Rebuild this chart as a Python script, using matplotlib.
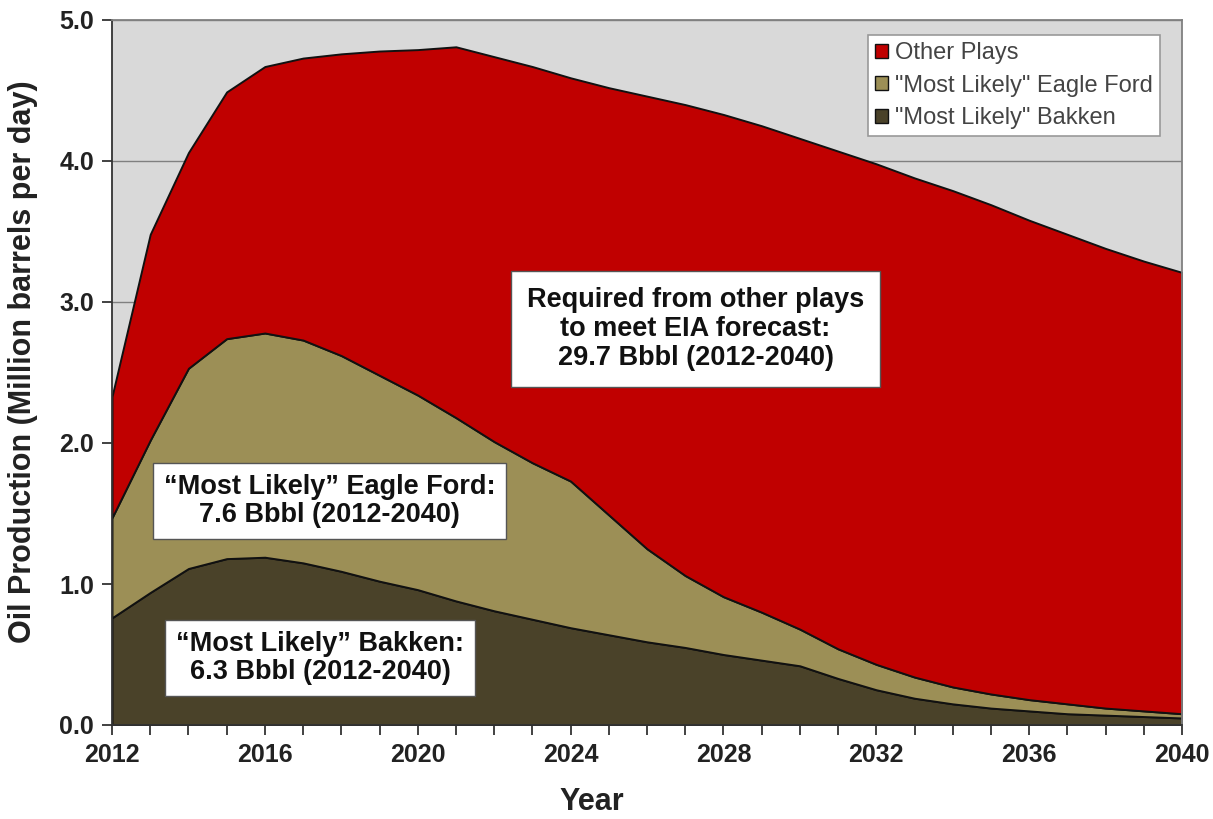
import matplotlib
matplotlib.use("Agg")
import matplotlib.pyplot as plt
from matplotlib.patches import Patch
from matplotlib.ticker import MultipleLocator, FormatStrFormatter

years = list(range(2012, 2041))
bakken = [0.76, 0.94, 1.11, 1.18, 1.19, 1.15, 1.09, 1.02, 0.96, 0.88,
          0.81, 0.75, 0.69, 0.64, 0.59, 0.55, 0.50, 0.46, 0.42, 0.33,
          0.25, 0.19, 0.15, 0.12, 0.10, 0.08, 0.07, 0.06, 0.05]
eagle_ford = [0.71, 1.08, 1.42, 1.56, 1.59, 1.58, 1.53, 1.46, 1.38, 1.30,
              1.20, 1.11, 1.04, 0.85, 0.66, 0.51, 0.41, 0.34, 0.26, 0.21,
              0.18, 0.15, 0.12, 0.10, 0.08, 0.07, 0.05, 0.04, 0.03]
other_plays = [0.86, 1.46, 1.53, 1.75, 1.89, 2.00, 2.14, 2.30, 2.45, 2.63,
               2.73, 2.81, 2.86, 3.03, 3.21, 3.34, 3.42, 3.45, 3.48, 3.53,
               3.55, 3.54, 3.52, 3.47, 3.40, 3.33, 3.26, 3.19, 3.13]

series_labels = ['"Most Likely" Bakken', '"Most Likely" Eagle Ford', 'Other Plays']
colors = ['#4A4229', '#9C8F56', '#C00000']

FONT = 'Liberation Sans'
plt.rcParams['font.family'] = [FONT, 'DejaVu Sans']

fig = plt.figure(figsize=(12.13, 8.19), dpi=100)
ax = fig.add_axes([112/1213, 1 - 725/819, (1182 - 112)/1213, (725 - 20)/819])
ax.set_facecolor('#D9D9D9')

ax.stackplot(years, bakken, eagle_ford, other_plays, colors=colors,
             edgecolor='#111111', linewidth=1.4, zorder=2)

ax.set_xlim(2012, 2040)
ax.set_ylim(0, 5)
ax.xaxis.set_major_locator(MultipleLocator(4))
ax.xaxis.set_minor_locator(MultipleLocator(1))
ax.yaxis.set_major_locator(MultipleLocator(1))
ax.yaxis.set_major_formatter(FormatStrFormatter('%.1f'))
ax.grid(axis='y', color='#808080', linewidth=1.0, zorder=1)
ax.set_axisbelow(True)

ax.tick_params(axis='both', which='both', direction='out', color='#333333')
ax.tick_params(axis='both', which='major', length=7, width=1.3, labelsize=18, pad=6)
ax.tick_params(axis='x', which='minor', length=7, width=1.3)
for lab in ax.get_xticklabels() + ax.get_yticklabels():
    lab.set_fontweight('bold')
    lab.set_color('#222222')

ax.spines['left'].set_color('#333333')
ax.spines['bottom'].set_color('#333333')
ax.spines['top'].set_color('#808080')
ax.spines['right'].set_color('#808080')
for s in ax.spines.values():
    s.set_linewidth(1.3)
    s.set_zorder(3)

ax.set_ylabel('Oil Production (Million barrels per day)', fontsize=22,
              fontweight='bold', color='#222222')
ax.yaxis.set_label_coords(-(112 - 38)/(1182 - 112), 0.515)
fig.text(592/1213, 1 - 802/819, 'Year', fontsize=22, fontweight='bold',
         color='#222222', ha='center', va='center')

box = dict(boxstyle='square,pad=0.4', facecolor='white', edgecolor='#555555', linewidth=1.0)
ax.text(2027.27, 2.81, 'Required from other plays\nto meet EIA forecast:\n29.7 Bbbl (2012-2040)',
        ha='center', va='center', fontsize=19.5, fontweight='bold', color='#111111',
        linespacing=1.15, zorder=5,
        bbox=dict(boxstyle='square,pad=0.6', facecolor='white', edgecolor='#555555', linewidth=1.0))
ax.text(2017.7, 1.59, '\u201cMost Likely\u201d Eagle Ford:\n7.6 Bbbl (2012-2040)',
        ha='center', va='center', fontsize=19.5, fontweight='bold', color='#111111',
        linespacing=1.12, zorder=5, bbox=box)
ax.text(2017.45, 0.475, '\u201cMost Likely\u201d Bakken:\n6.3 Bbbl (2012-2040)',
        ha='center', va='center', fontsize=19.5, fontweight='bold', color='#111111',
        linespacing=1.12, zorder=5, bbox=box)

handles = [Patch(facecolor=colors[2], edgecolor='#111111', linewidth=1.0, label=series_labels[2]),
           Patch(facecolor=colors[1], edgecolor='#111111', linewidth=1.0, label=series_labels[1]),
           Patch(facecolor=colors[0], edgecolor='#111111', linewidth=1.0, label=series_labels[0])]
leg = ax.legend(handles=handles, loc='upper right',
                bbox_to_anchor=((1160 - 112)/(1182 - 112), 1 - (35 - 20)/(725 - 20)),
                borderaxespad=0, fontsize=17, frameon=True, fancybox=False, framealpha=1,
                handlelength=0.55, handleheight=0.55, handletextpad=0.3,
                labelspacing=0.45, borderpad=0.3)
leg.get_frame().set_edgecolor('#999999')
leg.get_frame().set_linewidth(1.2)
leg.set_zorder(6)
for t in leg.get_texts():
    t.set_color('#444444')

fig.savefig('out.png', dpi=100)
